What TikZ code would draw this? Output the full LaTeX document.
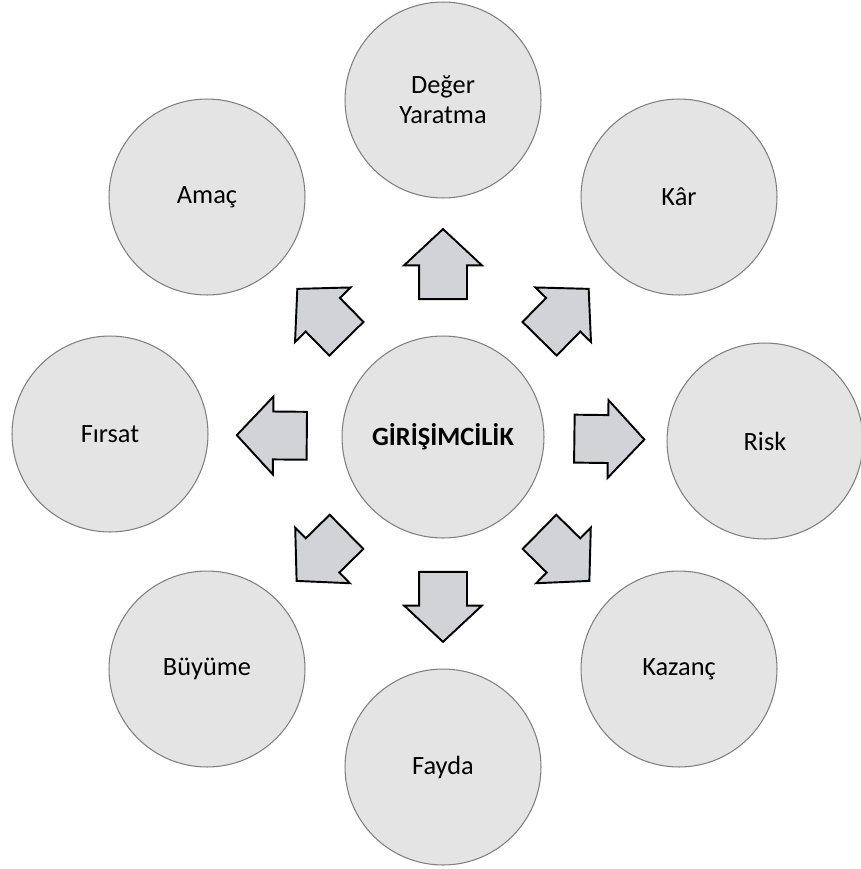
\documentclass[tikz,border=0pt]{standalone}
\usepackage{fontspec}
\setmainfont{Carlito}
\usepackage{tikz}
\usetikzlibrary{shapes.arrows}

\definecolor{circlefill}{HTML}{E4E4E4}
\definecolor{circleline}{HTML}{7F7F7F}
\definecolor{arrowfill}{HTML}{D1D3D7}

\begin{document}
\begin{tikzpicture}[
        x=0.02cm, y=-0.02cm,
        every node/.style={font=\fontsize{15}{17}\selectfont},
        concept/.style={circle, draw=circleline, fill=circlefill, line width=0.6pt, minimum size=3.92cm, inner sep=0pt, align=center},
        core/.style={concept, minimum size=4.04cm, font=\fontsize{15}{17}\selectfont\bfseries},
        blockarrow/.style={single arrow, draw=black, fill=arrowfill, line width=1.1pt, minimum height=1.4cm, inner xsep=0pt, inner ysep=0.46cm, single arrow head extend=0.3cm, single arrow tip angle=94, pos=0.44, sloped, allow upside down}
    ]
    \useasboundingbox (0,0) rectangle (860,869);

    % Nodes
    \node[core] (giris) at (443,437) {GİRİŞİMCİLİK};
    \node[concept] (deger) at (443,100) {Değer\\Yaratma};
    \node[concept] (kar) at (679,197) {Kâr};
    \node[concept] (risk) at (765,441) {Risk};
    \node[concept] (kazanc) at (679,669) {Kazanç};
    \node[concept] (fayda) at (443,767) {Fayda};
    \node[concept] (buyume) at (207,669) {Büyüme};
    \node[concept] (firsat) at (110,434) {Fırsat};
    \node[concept] (amac) at (207,197) {Amaç};

    % Arrows
    \foreach \target in {deger, kar, risk, kazanc, fayda, buyume, firsat, amac}
        \path (giris) -- (\target) node[blockarrow] {};

\end{tikzpicture}
\end{document}
